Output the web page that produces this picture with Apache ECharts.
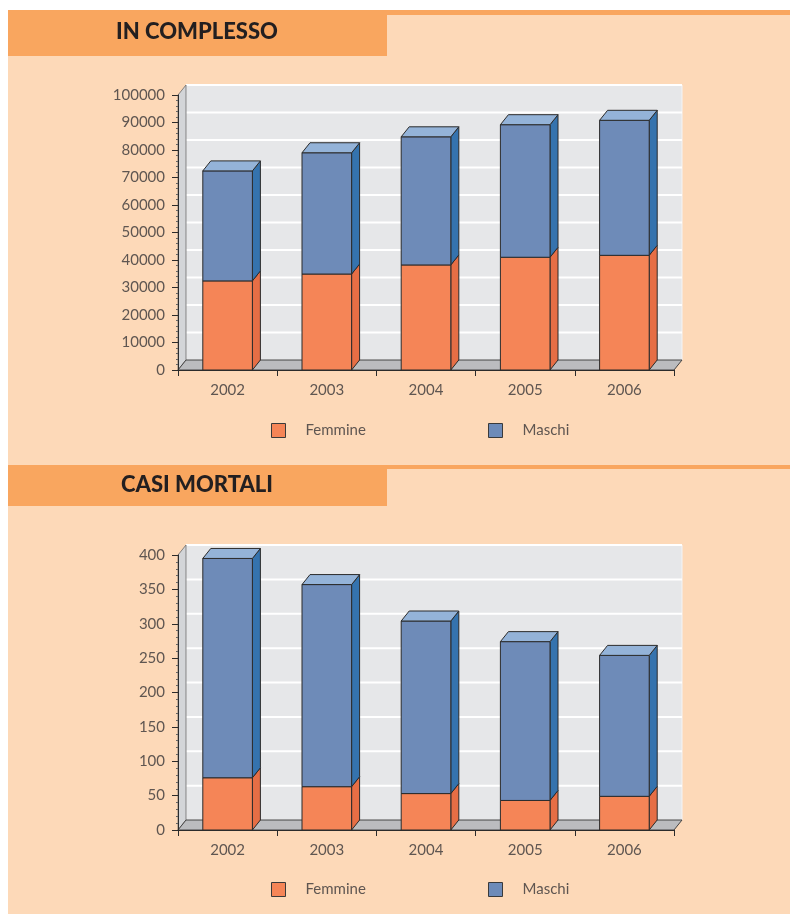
<!DOCTYPE html>
<html>
<head>
<meta charset="utf-8">
<script src="https://cdn.jsdelivr.net/npm/echarts@6/dist/echarts.min.js"></script>
<style>
html,body{margin:0;padding:0;background:#ffffff;}
#chart{width:790px;height:914px;}
</style>
</head>
<body>
<div id="chart"></div>
<script>
// ---- data ----
const categories = ['2002', '2003', '2004', '2005', '2006'];
const totFemmine = [32400, 34900, 38200, 41000, 41700];
const totMaschi = [40000, 44100, 46600, 48200, 49100];
const mortFemmine = [76, 63, 53, 43, 49];
const mortMaschi = [319, 294, 251, 231, 205];
const titles = ['IN COMPLESSO', 'CASI MORTALI'];
const seriesNames = ['Femmine', 'Maschi'];

// ---- style ----
const DX = 8, DY = -10;
const FONT = 'Lato, "Open Sans", sans-serif';
const LABEL_COLOR = '#5f5651';
const FEM = {front: '#F58557', side: '#E66E45', top: '#F7A07A'};
const MAS = {front: '#6E8BB8', side: '#3573AE', top: '#94B3D8'};
const EDGE = '#2b2b2b';

const yInfo = [
  {min: 0, max: 100000, interval: 10000},
  {min: 0, max: 400, interval: 50}
];

const chart = echarts.init(document.getElementById('chart'));

function wallItem(params, api) {
  const cs = params.coordSys;
  const x0 = cs.x, x1 = cs.x + cs.width, yT = cs.y, yB = cs.y + cs.height;
  const children = [];
  children.push({type: 'rect', shape: {x: x0 + DX, y: yT + DY, width: cs.width, height: cs.height},
    style: {fill: '#E6E7E9', stroke: '#F4F4F5', lineWidth: 1}});
  const info = yInfo[params.seriesIndex === 0 ? 0 : 1];
  for (let v = info.min + info.interval; v <= info.max + 1e-9; v += info.interval) {
    const y = api.coord([0, v])[1] + DY;
    children.push({type: 'line', shape: {x1: x0 + DX, y1: y, x2: x1 + DX, y2: y},
      style: {stroke: '#ffffff', lineWidth: 2}});
  }
  children.push({type: 'polygon', shape: {points: [[x0, yB], [x0, yT], [x0 + DX, yT + DY], [x0 + DX, yB + DY]]},
    style: {fill: '#D3D5D8', stroke: '#6a6a6a', lineWidth: 0.8}});
  children.push({type: 'polygon', shape: {points: [[x0, yB], [x1, yB], [x1 + DX, yB + DY], [x0 + DX, yB + DY]]},
    style: {fill: '#BBBCBF', stroke: '#444', lineWidth: 1}});
  return {type: 'group', children: children};
}

function barItem(colors, isTop) {
  return function (params, api) {
    const p0 = api.coord([api.value(0), api.value(1)]);
    const p1 = api.coord([api.value(0), api.value(2)]);
    const band = api.size([1, 0])[0];
    const w = band * 0.5;
    const xl = p0[0] - w / 2, xr = xl + w;
    const children = [
      {type: 'polygon', shape: {points: [[xr, p0[1]], [xr + DX, p0[1] + DY], [xr + DX, p1[1] + DY], [xr, p1[1]]]},
        style: {fill: colors.side, stroke: EDGE, lineWidth: 1}},
      {type: 'rect', shape: {x: xl, y: p1[1], width: w, height: p0[1] - p1[1]},
        style: {fill: colors.front, stroke: EDGE, lineWidth: 1}}
    ];
    if (isTop) {
      children.push({type: 'polygon', shape: {points: [[xl, p1[1]], [xr, p1[1]], [xr + DX, p1[1] + DY], [xl + DX, p1[1] + DY]]},
        style: {fill: colors.top, stroke: EDGE, lineWidth: 1}});
    }
    return {type: 'group', children: children};
  };
}

const gridTops = [95, 555];
const datasets = [[totFemmine, totMaschi], [mortFemmine, mortMaschi]];

const grids = [], xAxes = [], yAxes = [], series = [], legends = [];
gridTops.forEach(function (top, k) {
  grids.push({left: 178, right: 116, top: top, height: 275});
  xAxes.push({type: 'category', gridIndex: k, data: categories, boundaryGap: true, z: 10,
    axisLine: {lineStyle: {color: '#2b2b2b', width: 1}},
    axisTick: {show: true, interval: 0, length: 6, lineStyle: {color: '#2b2b2b'}},
    axisLabel: {margin: 13, fontFamily: FONT, fontSize: 15, color: LABEL_COLOR},
    splitLine: {show: false}});
  yAxes.push({type: 'value', gridIndex: k, min: yInfo[k].min, max: yInfo[k].max, interval: yInfo[k].interval, z: 10,
    axisLine: {show: true, lineStyle: {color: '#2b2b2b', width: 1}},
    axisTick: {show: true, length: 6, lineStyle: {color: '#2b2b2b'}},
    minorTick: {show: true, splitNumber: 5, length: 2, lineStyle: {color: '#666'}},
    axisLabel: {margin: 13, fontFamily: FONT, fontSize: 15, color: LABEL_COLOR,
      formatter: function (v) { return String(v); }},
    splitLine: {show: false}});
  series.push({type: 'custom', name: 'wall' + k, xAxisIndex: k, yAxisIndex: k, z: 1, silent: true,
    data: [[0, 0]], renderItem: wallItem});
  const fem = datasets[k][0], mas = datasets[k][1];
  series.push({type: 'custom', name: seriesNames[0], xAxisIndex: k, yAxisIndex: k, z: 5,
    itemStyle: {color: FEM.front},
    encode: {x: 0, y: 2},
    data: categories.map(function (c, i) { return [i, 0, fem[i]]; }),
    renderItem: barItem(FEM, false)});
  series.push({type: 'custom', name: seriesNames[1], xAxisIndex: k, yAxisIndex: k, z: 5,
    itemStyle: {color: MAS.front},
    encode: {x: 0, y: 2},
    data: categories.map(function (c, i) { return [i, fem[i], fem[i] + mas[i]]; }),
    renderItem: barItem(MAS, true)});
  const legTop = k === 0 ? 423 : 882;
  [[seriesNames[0], 271], [seriesNames[1], 488]].forEach(function (d) {
    legends.push({data: [d[0]], left: d[1], top: legTop, icon: 'rect', itemWidth: 14, itemHeight: 14,
      selectedMode: false, padding: 0,
      itemStyle: {borderColor: '#3a3a3a', borderWidth: 1},
      textStyle: {fontFamily: FONT, fontSize: 15, color: LABEL_COLOR, padding: [0, 0, 0, 15]}});
  });
});

const graphic = [
  {type: 'rect', z: -100, shape: {x: 8, y: 10, width: 782, height: 904}, style: {fill: '#FDD9B8'}},
  {type: 'rect', z: -99, shape: {x: 8, y: 10, width: 782, height: 5}, style: {fill: '#F9A65F'}},
  {type: 'rect', z: -99, shape: {x: 8, y: 10, width: 379, height: 46}, style: {fill: '#F9A65F'}},
  {type: 'rect', z: -99, shape: {x: 8, y: 465, width: 782, height: 4}, style: {fill: '#F9A65F'}},
  {type: 'rect', z: -99, shape: {x: 8, y: 465, width: 379, height: 41}, style: {fill: '#F9A65F'}},
  {type: 'text', z: -98, x: 197, y: 32, style: {text: titles[0], fill: '#231f20', font: '900 22px Lato, sans-serif', textAlign: 'center', textVerticalAlign: 'middle'}},
  {type: 'text', z: -98, x: 197, y: 485, style: {text: titles[1], fill: '#231f20', font: '900 22px Lato, sans-serif', textAlign: 'center', textVerticalAlign: 'middle'}}
];

chart.setOption({
  animation: false,
  grid: grids, xAxis: xAxes, yAxis: yAxes, series: series, legend: legends, graphic: graphic
});
</script>
</body>
</html>
